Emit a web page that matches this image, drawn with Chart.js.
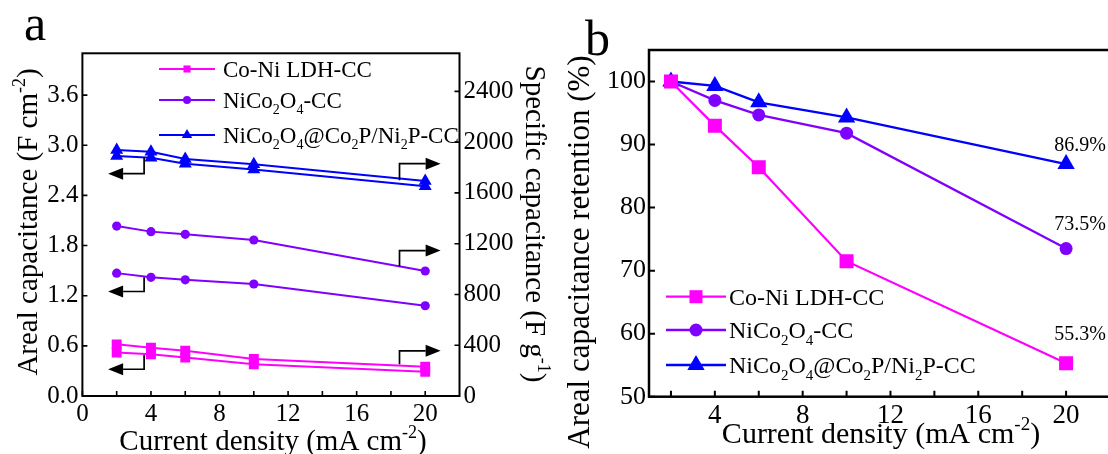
<!DOCTYPE html>
<html>
<head>
<meta charset="utf-8">
<script src="https://cdn.jsdelivr.net/npm/chart.js@4.4.1/dist/chart.umd.min.js"></script>
<style>
  html, body { margin: 0; padding: 0; background: #fff; }
  body { width: 1108px; height: 454px; overflow: hidden; position: relative; }
  .panel { position: absolute; top: 0; height: 454px; overflow: hidden; }
</style>
</head>
<body>
<div class="panel" style="left:0;width:560px"><canvas id="chartA" width="560" height="454"></canvas></div>
<div class="panel" style="left:560px;width:548px"><canvas id="chartB" width="560" height="454"></canvas></div>
<script>
// current density (mA cm-2)
const currentDensity = [2, 4, 6, 10, 20];
const seriesNames = ['Co-Ni LDH-CC', 'NiCo_{2}O_{4}-CC', 'NiCo_{2}O_{4}@Co_{2}P/Ni_{2}P-CC'];

// panel a: areal (F cm-2, left) and specific (F g-1, right) capacitance
const ldhAreal = [0.52, 0.50, 0.46, 0.38, 0.29];
const ncoAreal = [1.47, 1.42, 1.39, 1.34, 1.08];
const hybridAreal = [2.87, 2.85, 2.78, 2.71, 2.51];
const ldhSpecific = [407, 381, 357, 292, 231];
const ncoSpecific = [1339, 1295, 1274, 1229, 985];
const hybridSpecific = [1938, 1925, 1867, 1826, 1694];

// panel b: capacitance retention (%)
const ldhRetention = [100, 93.0, 86.4, 71.5, 55.3];
const ncoRetention = [100, 97.0, 94.7, 91.8, 73.5];
const hybridRetention = [100, 99.3, 96.7, 94.3, 86.9];
const retentionLabels = ['55.3%', '73.5%', '86.9%'];

// tick values
const xTicksA = [0, 4, 8, 12, 16, 20];
const xMinorA = [2, 6, 10, 14, 18];
const yTicksA = [0, 0.6, 1.2, 1.8, 2.4, 3.0, 3.6];
const y1TicksA = [0, 400, 800, 1200, 1600, 2000, 2400];
const xTicksB = [4, 8, 12, 16, 20];
const xMinorB = [2, 6, 10, 14, 18];
const yTicksB = [50, 60, 70, 80, 90, 100];

// bracket arrows of panel a, in data units of the left axis: [x, from, to, tip]
const arrowsA = [
  [3.6, 0.49, 0.32, 1.5], [18.5, 0.38, 0.54, 20.9],
  [3.6, 1.42, 1.25, 1.5], [18.5, 1.55, 1.74, 20.9],
  [3.6, 2.86, 2.66, 1.5], [18.5, 2.58, 2.78, 20.9]
];

const serif = '"Liberation Serif", "Times New Roman", serif';
const colors = ['#ff00ff', '#8000ff', '#0000ff'];
const markers = ['rect', 'circle', 'triangle'];

function pts(ys) { return currentDensity.map((x, i) => ({ x: x, y: ys[i] })); }

function parseRich(str) {
  const parts = [];
  const re = /([_^])\{([^}]*)\}/g;
  let last = 0, m;
  while ((m = re.exec(str))) {
    if (m.index > last) parts.push({ t: str.slice(last, m.index), k: 0 });
    parts.push({ t: m[2], k: m[1] === '_' ? 1 : -1 });
    last = re.lastIndex;
  }
  if (last < str.length) parts.push({ t: str.slice(last), k: 0 });
  return parts;
}

function drawRich(ctx, str, x, y, size, align) {
  const parts = parseRich(str);
  const fontFor = k => (k ? Math.round(size * 0.62) : size) + 'px ' + serif;
  let w = 0;
  parts.forEach(p => { ctx.font = fontFor(p.k); p.w = ctx.measureText(p.t).width; w += p.w; });
  let cx = align === 'center' ? x - w / 2 : x;
  ctx.fillStyle = '#000';
  ctx.textAlign = 'left';
  ctx.textBaseline = 'alphabetic';
  parts.forEach(p => {
    ctx.font = fontFor(p.k);
    const dy = p.k === 1 ? size * 0.28 : (p.k === -1 ? -size * 0.42 : 0);
    ctx.fillText(p.t, cx, y + dy);
    cx += p.w;
  });
}

function drawRotated(ctx, str, x, y, size, angle) {
  ctx.save();
  ctx.translate(x, y);
  ctx.rotate(angle);
  drawRich(ctx, str, 0, 0, size, 'center');
  ctx.restore();
}

function drawMarker(ctx, style, x, y, r, color) {
  ctx.fillStyle = color;
  ctx.beginPath();
  if (style === 'rect') {
    const s = r * Math.SQRT1_2;
    ctx.rect(x - s, y - s, 2 * s, 2 * s);
  } else if (style === 'triangle') {
    ctx.moveTo(x, y - r);
    ctx.lineTo(x + r * Math.sin(2 * Math.PI / 3), y - r * Math.cos(2 * Math.PI / 3));
    ctx.lineTo(x + r * Math.sin(4 * Math.PI / 3), y - r * Math.cos(4 * Math.PI / 3));
    ctx.closePath();
  } else {
    ctx.arc(x, y, r, 0, 2 * Math.PI);
  }
  ctx.fill();
}

function drawLegend(ctx, rows, x0, x1, textX, size, radii, lw) {
  rows.forEach((y, i) => {
    ctx.strokeStyle = colors[i];
    ctx.lineWidth = lw;
    ctx.beginPath(); ctx.moveTo(x0, y); ctx.lineTo(x1, y); ctx.stroke();
    drawMarker(ctx, markers[i], (x0 + x1) / 2, y, radii[i], colors[i]);
    drawRich(ctx, seriesNames[i], textX, y + size * 0.33, size, 'left');
  });
}

// frame and inward tick marks
function drawFrame(chart, lw, marks) {
  const ctx = chart.ctx, a = chart.chartArea;
  ctx.save();
  ctx.strokeStyle = '#000';
  ctx.lineWidth = lw;
  ctx.strokeRect(a.left, a.top, a.right - a.left, a.bottom - a.top);
  ctx.lineWidth = lw * 0.8;
  ctx.beginPath();
  marks.forEach(([id, values, len]) => {
    const s = chart.scales[id];
    values.forEach(v => {
      const p = s.getPixelForValue(v);
      if (id === 'x') { ctx.moveTo(p, a.bottom); ctx.lineTo(p, a.bottom - len); }
      else if (s.position === 'left') { ctx.moveTo(a.left, p); ctx.lineTo(a.left + len, p); }
      else { ctx.moveTo(a.right, p); ctx.lineTo(a.right - len, p); }
    });
  });
  ctx.stroke();
  ctx.restore();
}

function drawArrow(chart, [x, from, to, tip]) {
  const ctx = chart.ctx, xs = chart.scales.x, ys = chart.scales.y;
  const x0 = xs.getPixelForValue(x), xt = xs.getPixelForValue(tip);
  const y0 = ys.getPixelForValue(from), y1 = ys.getPixelForValue(to);
  const dir = Math.sign(xt - x0), head = 15;
  ctx.strokeStyle = '#000';
  ctx.lineWidth = 1.7;
  ctx.beginPath(); ctx.moveTo(x0, y0); ctx.lineTo(x0, y1); ctx.lineTo(xt - dir * head, y1); ctx.stroke();
  ctx.fillStyle = '#000';
  ctx.beginPath(); ctx.moveTo(xt, y1); ctx.lineTo(xt - dir * head, y1 - 6); ctx.lineTo(xt - dir * head, y1 + 6); ctx.closePath(); ctx.fill();
}

function axisBase(min, max, ticks, size, padding, fmt) {
  return {
    type: 'linear', min: min, max: max,
    afterBuildTicks: s => { s.ticks = ticks.map(v => ({ value: v })); },
    grid: { display: false, drawTicks: false },
    border: { display: false },
    ticks: { color: '#000', padding: padding, maxRotation: 0, autoSkip: false,
             font: { family: serif, size: size }, callback: fmt || (v => String(v)) }
  };
}

function lineSet(data, i, yAxisID, radius, lw) {
  return {
    data: pts(data), yAxisID: yAxisID,
    borderColor: colors[i], backgroundColor: colors[i], borderWidth: lw,
    pointStyle: markers[i], pointRadius: radius, pointBorderWidth: 0,
    pointBackgroundColor: colors[i], pointBorderColor: colors[i],
    tension: 0, fill: false
  };
}

// ---------- panel a ----------
const arealSets = [ldhAreal, ncoAreal, hybridAreal];
const specificSets = [ldhSpecific, ncoSpecific, hybridSpecific];
const radiiA = [7, 4.6, 7.5];
const setsA = [];
arealSets.forEach((d, i) => {
  setsA.push(lineSet(specificSets[i], i, 'y1', radiiA[i], 2));
  setsA.push(lineSet(d, i, 'y', radiiA[i], 2));
});

const xA = axisBase(0, 22, xTicksA, 25, 3);
xA.afterFit = s => { s.height = 58; };
const yA = axisBase(0, 4.1, yTicksA, 25, 4, v => v.toFixed(1));
yA.position = 'left';
yA.afterFit = s => { s.width = 82.4; };
const y1A = axisBase(0, 2700, y1TicksA, 25, 4);
y1A.position = 'right';
y1A.afterFit = s => { s.width = 100.5; };

new Chart(document.getElementById('chartA'), {
  type: 'line',
  data: { datasets: setsA },
  options: {
    responsive: false, animation: false, devicePixelRatio: 1, events: [],
    layout: { padding: { top: 53.3, left: 0, right: 0, bottom: 0 } },
    plugins: { legend: { display: false }, tooltip: { enabled: false } },
    scales: { x: xA, y: yA, y1: y1A }
  },
  plugins: [{
    id: 'decorA',
    afterDraw(chart) {
      const ctx = chart.ctx;
      ctx.save();
      drawFrame(chart, 2, [['x', xTicksA.concat(xMinorA), 5], ['y', yTicksA, 5], ['y1', y1TicksA, 5]]);
      arrowsA.forEach(a => drawArrow(chart, a));
      drawLegend(ctx, [69, 100, 135], 159, 215, 223, 23, [5, 4, 6], 2);
      drawRich(ctx, 'a', 24, 40, 50, 'left');
      drawRotated(ctx, 'Areal capacitance (F cm^{-2})', 37, 222, 29, -Math.PI / 2);
      drawRotated(ctx, 'Specific capacitance (F g^{-1})', 526, 224, 29, Math.PI / 2);
      drawRich(ctx, 'Current density (mA cm^{-2})', 273, 450, 29, 'center');
      ctx.restore();
    }
  }]
});

// ---------- panel b ----------
const retentionSets = [ldhRetention, ncoRetention, hybridRetention];
const radiiB = [9.9, 6.5, 10];
const setsB = retentionSets.map((d, i) => lineSet(d, i, 'y', radiiB[i], 2.3));

const xB = axisBase(1, 22, xTicksB, 27, 3);
xB.afterFit = s => { s.height = 57.3; };
const yB = axisBase(50, 105, yTicksB, 26, 3);
yB.position = 'left';
yB.afterFit = s => { s.width = 89; };

new Chart(document.getElementById('chartB'), {
  type: 'line',
  data: { datasets: setsB },
  options: {
    responsive: false, animation: false, devicePixelRatio: 1, events: [],
    layout: { padding: { top: 50, left: 0, right: 4.3, bottom: 0 } },
    plugins: { legend: { display: false }, tooltip: { enabled: false } },
    scales: { x: xB, y: yB }
  },
  plugins: [{
    id: 'decorB',
    afterDraw(chart) {
      const ctx = chart.ctx;
      const xs = chart.scales.x, ys = chart.scales.y;
      ctx.save();
      drawFrame(chart, 2.5, [['x', xTicksB.concat(xMinorB), 6], ['y', yTicksB, 6]]);
      const labelDy = [-23, -19, -13];
      retentionSets.forEach((d, i) => {
        const n = d.length - 1;
        drawRich(ctx, retentionLabels[i], xs.getPixelForValue(currentDensity[n]) + 14,
                 ys.getPixelForValue(d[n]) + labelDy[i], 20, 'center');
      });
      drawLegend(ctx, [296.7, 330, 365], 106, 166, 169, 24, [9.2, 6.5, 10], 2.3);
      drawRich(ctx, 'b', 25, 55, 50, 'left');
      drawRotated(ctx, 'Areal capacitance retention (%)', 29, 252, 31, -Math.PI / 2);
      drawRich(ctx, 'Current density (mA cm^{-2})', 321, 443, 30, 'center');
      ctx.restore();
    }
  }]
});
</script>
</body>
</html>
